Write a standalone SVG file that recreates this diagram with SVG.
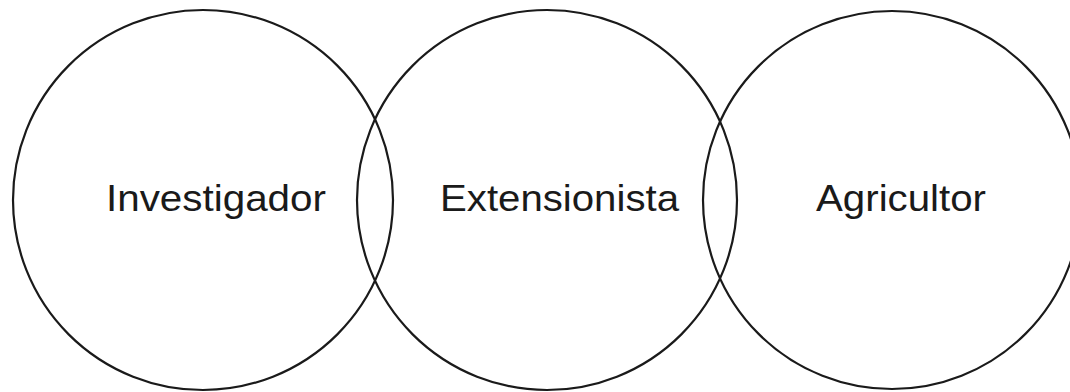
<svg xmlns="http://www.w3.org/2000/svg" width="1070" height="392" viewBox="0 0 1070 392">
<style>
.c{fill:none;stroke:#1a1a1a;stroke-width:2.2}
.t{font-family:"Liberation Sans",Arial,Helvetica,sans-serif;font-size:37px;fill:#1a1a1a}
</style>
<rect width="1070" height="392" fill="#ffffff"/>
<g id="investigador">
<circle class="c" cx="203" cy="200" r="190"/>
<text class="t" x="106" y="211" textLength="220" lengthAdjust="spacingAndGlyphs">Investigador</text>
</g>
<g id="extensionista">
<circle class="c" cx="547" cy="200" r="190"/>
<text class="t" x="440" y="211" textLength="239" lengthAdjust="spacingAndGlyphs">Extensionista</text>
</g>
<g id="agricultor">
<circle class="c" cx="892" cy="200" r="189"/>
<text class="t" x="816" y="211" textLength="170" lengthAdjust="spacingAndGlyphs">Agricultor</text>
</g>
<g id="connectors"></g>
</svg>
